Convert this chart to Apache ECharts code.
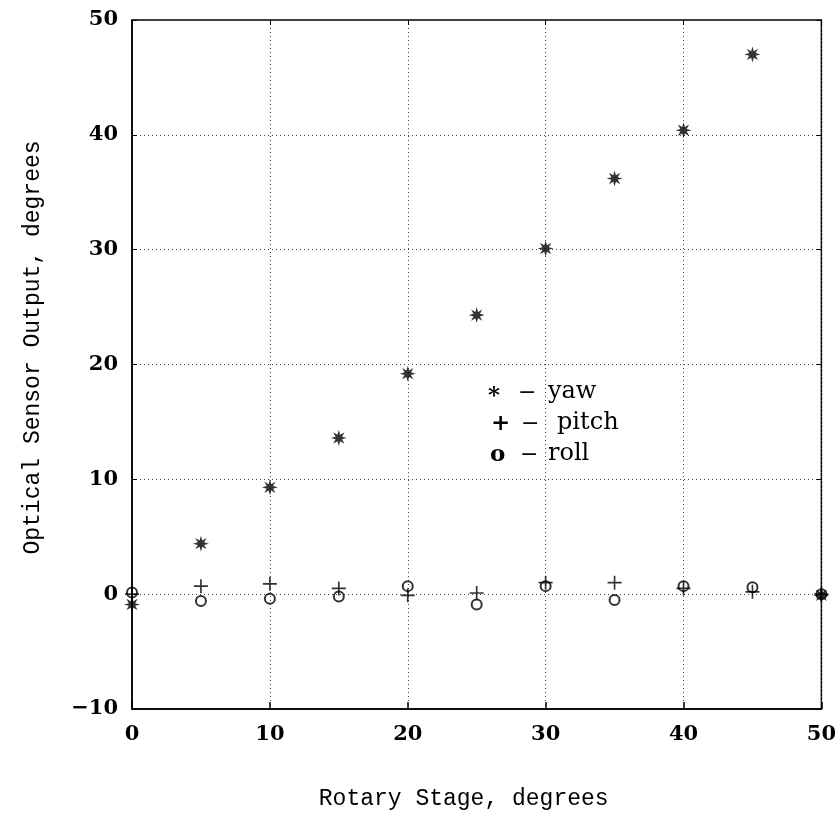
<!DOCTYPE html>
<html>
<head>
<meta charset="utf-8">
<script src="https://cdn.jsdelivr.net/npm/echarts@6/dist/echarts.min.js"></script>
<style>html,body{margin:0;padding:0;background:#fff}#c{width:839px;height:821px}</style>
</head>
<body>
<div id="c"></div>
<script>
var stage = [0, 5, 10, 15, 20, 25, 30, 35, 40, 45, 50];
var yaw   = [-0.9, 4.4, 9.3, 13.6, 19.2, 24.3, 30.1, 36.2, 40.4, 47.0, -0.1];
var pitch = [0.0, 0.7, 0.9, 0.5, -0.1, 0.1, 1.0, 1.0, 0.5, 0.2, 0.0];
var roll  = [0.15, -0.6, -0.4, -0.2, 0.7, -0.9, 0.7, -0.5, 0.7, 0.6, 0.0];
var xTicks = [0, 10, 20, 30, 40, 50];
var yTicks = [-10, 0, 10, 20, 30, 40, 50];
var xTitle = 'Rotary Stage, degrees';
var yTitle = 'Optical Sensor Output, degrees';
var legendItems = [
  {sym: '*', name: 'yaw'},
  {sym: '+', name: 'pitch'},
  {sym: 'o', name: 'roll'}
];

function pairs(xs, ys) { return xs.map(function (x, i) { return [x, ys[i]]; }); }

var STAR = 'path://M1,0 L0.4,0.166 L0.707,0.707 L0.166,0.4 L0,1 L-0.166,0.4 L-0.707,0.707 L-0.4,0.166 L-1,0 L-0.4,-0.166 L-0.707,-0.707 L-0.166,-0.4 L0,-1 L0.166,-0.4 L0.707,-0.707 L0.4,-0.166 Z';
var PLUS = 'path://M-1,-0.12H1V0.12H-1Z M-0.12,-1H0.12V1H-0.12Z';

var tickFont = {fontFamily: 'DejaVu Serif', fontSize: 21, fontWeight: 'bold', color: '#000'};
var titleFont = {fontFamily: 'Liberation Mono', fontSize: 23, color: '#000'};

var chart = echarts.init(document.getElementById('c'), null, {renderer: 'canvas'});

var minus = function (v) { return v < 0 ? '\u2212' + Math.abs(v) : String(v); };

var legendGraphics = [];
var rowsY = [397, 428, 459];
var nameX = [548, 557, 548];
var symX = [495, 498, 497];
var dashX = [518, 521, 520];
legendItems.forEach(function (it, i) {
  legendGraphics.push({type: 'text', left: symX[i] - 7, top: rowsY[i] - (i === 0 ? 12 : 15),
    style: {text: it.sym, font: 'bold 23px "DejaVu Serif"', fill: '#000'}});
  legendGraphics.push({type: 'text', left: dashX[i], top: rowsY[i] - 15,
    style: {text: '\u2212', font: '22px "DejaVu Serif"', fill: '#000'}});
  legendGraphics.push({type: 'text', left: nameX[i], top: rowsY[i] - 17,
    style: {text: it.name, font: '24px "DejaVu Serif"', fill: '#000'}});
});

var option = {
  animation: false,
  backgroundColor: '#fff',
  grid: {left: 132, right: 17, top: 20, bottom: 112, show: true, borderColor: '#000', borderWidth: 1.5, backgroundColor: 'transparent'},
  xAxis: [{
    type: 'value', min: 0, max: 50, interval: 10, position: 'bottom',
    name: xTitle, nameLocation: 'middle', nameGap: 78,
    nameTextStyle: Object.assign({padding: [0, 26, 0, 0]}, titleFont),
    axisLine: {show: true, onZero: false, lineStyle: {color: '#000', width: 1.5}},
    axisTick: {show: true, inside: true, length: 7, lineStyle: {color: '#000', width: 1.5}},
    axisLabel: Object.assign({margin: 15}, tickFont),
    splitLine: {show: true, lineStyle: {type: [1, 3], color: '#444', width: 1}}
  }, {
    type: 'value', min: 0, max: 50, interval: 10, position: 'top',
    axisLine: {show: false, onZero: false},
    axisTick: {show: true, inside: true, length: 5, lineStyle: {color: '#000', width: 1}},
    axisLabel: {show: false}, splitLine: {show: false}
  }],
  yAxis: [{
    type: 'value', min: -10, max: 50, interval: 10, position: 'left',
    name: yTitle, nameLocation: 'middle', nameGap: 88, nameRotate: 90,
    nameTextStyle: Object.assign({padding: [0, 0, 0, 34]}, titleFont),
    axisLine: {show: true, onZero: false, lineStyle: {color: '#000', width: 1.5}},
    axisTick: {show: true, inside: true, length: 5, lineStyle: {color: '#000', width: 1}},
    axisLabel: Object.assign({margin: 14, formatter: minus}, tickFont),
    splitLine: {show: true, lineStyle: {type: [1, 3], color: '#444', width: 1}}
  }, {
    type: 'value', min: -10, max: 50, interval: 10, position: 'right',
    axisLine: {show: false, onZero: false},
    axisTick: {show: true, inside: true, length: 5, lineStyle: {color: '#000', width: 1}},
    axisLabel: {show: false}, splitLine: {show: false}
  }],
  series: [{
    name: 'yaw', type: 'scatter', data: pairs(stage, yaw),
    symbol: STAR, symbolSize: 16, itemStyle: {color: '#000'}
  }, {
    name: 'pitch', type: 'scatter', data: pairs(stage, pitch),
    symbol: PLUS, symbolSize: 14, itemStyle: {color: '#000'}
  }, {
    name: 'roll', type: 'scatter', data: pairs(stage, roll),
    symbol: 'circle', symbolSize: 10,
    itemStyle: {color: 'rgba(0,0,0,0)', borderColor: '#000', borderWidth: 2}
  }],
  graphic: legendGraphics
};
chart.setOption(option);
</script>
</body>
</html>
